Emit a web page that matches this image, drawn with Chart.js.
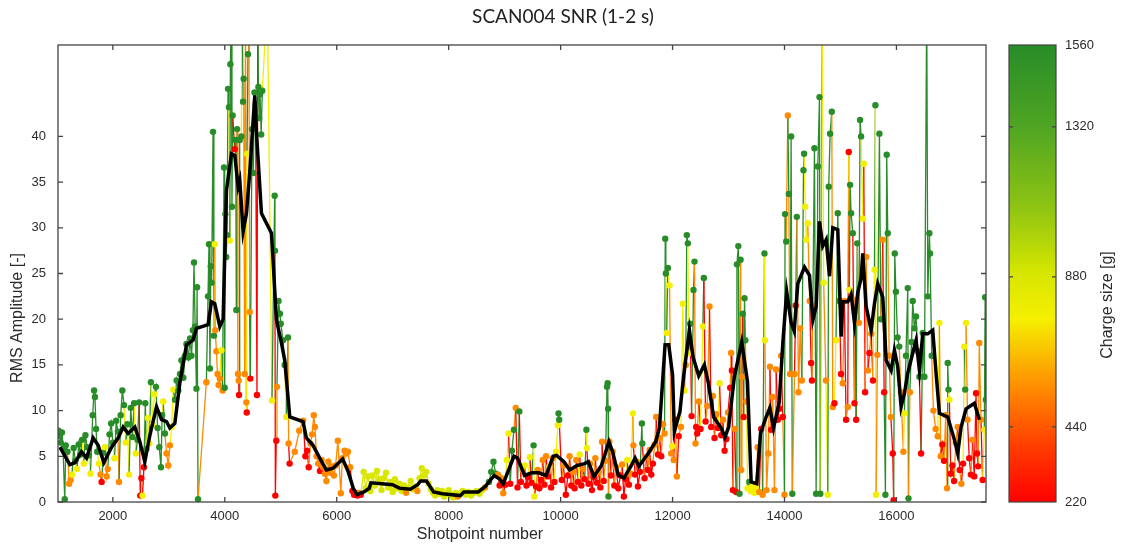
<!DOCTYPE html>
<html>
<head>
<meta charset="utf-8">
<title>SCAN004 SNR</title>
<script src="https://cdn.jsdelivr.net/npm/chart.js@4.4.0/dist/chart.umd.min.js"></script>
<style>
  html, body { margin: 0; padding: 0; background: #fff; }
  #wrap { position: relative; width: 1127px; height: 550px; }
  #wrap canvas { position: absolute; left: 0; top: 0; }
</style>
</head>
<body>
<div id="wrap">
  <canvas id="snrChart" width="1127" height="550"></canvas>
  <canvas id="cbarChart" width="1127" height="550"></canvas>
</div>
<script>
// Texts
const chartTitle = 'SCAN004 SNR (1-2 s)';
const xTitle = 'Shotpoint number';
const yTitle = 'RMS Amplitude [-]';
const cbarTitle = 'Charge size [g]';

// Axis ticks
const xTicks = [2000, 4000, 6000, 8000, 10000, 12000, 14000, 16000];
const yTicks = [0, 5, 10, 15, 20, 25, 30, 35, 40];
const chargeTicks = [220, 440, 880, 1320, 1560];

// Single shots: shotpoint, RMS amplitude, charge size [g]
const shotX = [
  1030, 1050, 1070, 1090, 1110, 1140, 1160, 1190, 1220, 1245,
  1270, 1300, 1330, 1360, 1390, 1420, 1450, 1480, 1510, 1540,
  1570, 1600, 1640, 1665, 1680, 1700, 1720, 1750, 1780, 1800,
  1830, 1860, 1890, 1910, 1940, 1970, 2000, 2030, 2060, 2090,
  2110, 2140, 2170, 2200, 2230, 2260, 2290, 2320, 2350, 2380,
  2410, 2440, 2470, 2490, 2510, 2530, 2555, 2580, 2600, 2625,
  2650, 2680, 2710, 2740, 2770, 2800, 2830, 2860, 2880, 2900,
  2930, 2960, 2990, 3020, 3050, 3080, 3110, 3140, 3170, 3200,
  3225, 3260, 3290, 3315, 3350, 3380, 3405, 3430, 3450, 3470,
  3493, 3505, 3522, 3671, 3700, 3718, 3735, 3750, 3765, 3790,
  3805, 3820, 3830, 3850, 3870, 3890, 3910, 3940, 3960, 3986,
  3998, 4010, 4025, 4040, 4058, 4075, 4090, 4100, 4117, 4128,
  4140, 4177, 4195, 4206, 4220, 4235, 4248, 4254, 4266, 4296,
  4310, 4326, 4337, 4355, 4370, 4385, 4392, 4397, 4415, 4430,
  4445, 4456, 4486, 4510, 4530, 4550, 4575, 4590, 4600, 4615,
  4630, 4650, 4670, 4760, 4843, 4891, 4896, 4903, 4920, 4932,
  4960, 4985, 5000, 5040, 5070, 5099, 5129, 5140, 5158, 5250,
  5330, 5400, 5440, 5470, 5500, 5530, 5560, 5590, 5610, 5640,
  5670, 5700, 5730, 5760, 5790, 5815, 5850, 5880, 5910, 5950,
  5980, 6020, 6073, 6100, 6140, 6170, 6200, 6240, 6280, 6310,
  6340, 6370, 6400, 6430, 6480, 6520, 6560, 6600, 6640, 6680,
  6720, 6760, 6800, 6840, 6880, 6920, 6960, 7000, 7040, 7080,
  7120, 7160, 7200, 7240, 7280, 7320, 7360, 7400, 7440, 7480,
  7520, 7560, 7600, 7640, 7680, 7720, 7760, 7800, 7840, 7880,
  7920, 7960, 8000, 8040, 8080, 8120, 8160, 8200, 8250, 8300,
  8350, 8400, 8450, 8500, 8550, 8600, 8650, 8720, 8760, 8800,
  8840, 8880, 8910, 8940, 8975, 9010, 9040, 9070, 9100, 9130,
  9166, 9198, 9230, 9262, 9290, 9320, 9358, 9390, 9420, 9450,
  9480, 9517, 9530, 9560, 9590, 9620, 9650, 9680, 9710, 9740,
  9770, 9800, 9830, 9860, 9890, 9920, 9950, 9963, 9975, 10020,
  10050, 10093, 10130, 10160, 10190, 10220, 10250, 10280, 10310, 10340,
  10370, 10400, 10430, 10461, 10470, 10500, 10530, 10560, 10590, 10620,
  10650, 10680, 10710, 10740, 10770, 10800, 10829, 10840, 10848, 10855,
  10870, 10900, 10930, 10960, 10990, 11030, 11070, 11100, 11130, 11160,
  11190, 11220, 11250, 11291, 11300, 11330, 11360, 11381, 11420, 11452,
  11460, 11500, 11530, 11559, 11589, 11620, 11648, 11680, 11708, 11740,
  11770, 11797, 11830, 11857, 11869, 11880, 11895, 11916, 11946, 11976,
  11995, 12020, 12050, 12077, 12110, 12150, 12184, 12214, 12235, 12255,
  12273, 12290, 12315, 12340, 12374, 12392, 12410, 12422, 12440, 12470,
  12500, 12541, 12559, 12590, 12620, 12660, 12690, 12720, 12750, 12780,
  12810, 12840, 12870, 12900, 12930, 12960, 12990, 13030, 13047, 13060,
  13077, 13110, 13136, 13150, 13175, 13196, 13215, 13226, 13240, 13255,
  13270, 13285, 13300, 13320, 13340, 13370, 13400, 13430, 13460, 13490,
  13520, 13550, 13583, 13610, 13642, 13650, 13680, 13710, 13740, 13761,
  13790, 13820, 13850, 13880, 13910, 13940, 13970, 14000, 14010, 14030,
  14059, 14077, 14100, 14118, 14140, 14178, 14200, 14220, 14250, 14280,
  14310, 14339, 14350, 14370, 14390, 14416, 14450, 14476, 14490, 14506,
  14535, 14565, 14595, 14625, 14640, 14672, 14700, 14740, 14773, 14790,
  14815, 14845, 14862, 14892, 14920, 14952, 14980, 15010, 15041, 15070,
  15100, 15130, 15148, 15160, 15172, 15190, 15220, 15250, 15265, 15280,
  15300, 15330, 15350, 15368, 15400, 15416, 15440, 15458, 15490, 15517,
  15550, 15580, 15607, 15624, 15636, 15660, 15696, 15720, 15755, 15780,
  15803, 15826, 15845, 15870, 15900, 15934, 15950, 15970, 15990, 16020,
  16050, 16080, 16124, 16142, 16170, 16202, 16215, 16240, 16270, 16291,
  16320, 16350, 16380, 16410, 16440, 16470, 16500, 16541, 16560, 16588,
  16600, 16630, 16660, 16700, 16737, 16767, 16790, 16820, 16850, 16880,
  16904, 16916, 16930, 16946, 16970, 17000, 17030, 17060, 17094, 17130,
  17160, 17190, 17213, 17228, 17243, 17270, 17300, 17330, 17360, 17390,
  17422, 17440, 17460, 17480, 17510, 17540, 17570, 17585, 17598
];
const rmsY = [
  7.8, 7.2, 6.5, 7.6, 5.8, 0.3, 6.2, 5.5, 2.0, 2.4,
  3.0, 5.9, 4.5, 3.6, 6.3, 5.2, 6.8, 4.2, 7.3, 6.0,
  5.1, 3.1, 9.5, 12.2, 11.5, 8.0, 5.5, 4.2, 3.0, 2.2,
  5.4, 6.0, 2.8, 3.6, 7.4, 8.6, 6.5, 4.8, 8.9, 7.7,
  2.2, 9.5, 12.2, 10.6, 6.5, 8.5, 3.0, 10.3, 7.1, 10.8,
  5.3, 6.8, 10.9, 0.7, 2.6, 0.7, 3.8, 10.8, 5.8, 9.2,
  6.4, 13.1, 8.5, 11.8, 12.6, 8.1, 6.0, 3.8, 9.5, 11.0,
  7.5, 5.3, 4.0, 6.2, 8.2, 12.3, 11.2, 13.3, 12.2, 14.0,
  15.5, 13.6, 16.0, 17.3, 15.8, 17.9, 16.0, 18.8, 26.2, 19.2,
  12.4, 23.5, 0.3, 13.1, 22.5, 28.2, 14.6, 25.8, 24.0, 40.5,
  18.2, 28.2, 18.8, 16.5, 14.0, 12.8, 13.5, 16.6, 12.2, 36.6,
  12.5, 31.5, 26.8, 29.2, 45.2, 43.2, 28.6, 47.9, 55, 32.3,
  42.3, 38.6, 39.6, 21.0, 40.8, 14.0, 13.3, 11.7, 39.6, 40.0,
  55, 43.8, 46.3, 14.0, 55, 10.9, 9.8, 38.1, 49.0, 55,
  20.8, 13.5, 40.8, 36.0, 44.8, 43.5, 11.7, 55, 45.4, 42.0,
  44.6, 40.2, 45.0, 55, 11.1, 33.5, 27.5, 0.7, 6.7, 12.6,
  22.0, 20.6, 19.5, 17.7, 15.0, 9.3, 18.0, 6.4, 4.2, 5.5,
  7.8, 8.9, 5.0, 5.6, 3.8, 6.4, 7.4, 9.5, 8.2, 5.0,
  4.2, 3.4, 4.6, 3.8, 3.1, 2.3, 4.4, 3.2, 3.9, 2.9,
  4.0, 6.7, 0.95, 4.8, 5.6, 5.3, 5.5, 3.8, 1.2, 0.8,
  1.0, 0.7, 1.0, 0.8, 3.3, 1.5, 2.8, 1.2, 2.9, 1.8,
  3.4, 2.5, 1.3, 2.6, 3.2, 1.6, 2.2, 1.1, 2.5, 1.5,
  2.0, 1.2, 1.8, 1.0, 1.6, 2.3, 1.4, 1.7, 1.2, 2.6,
  3.7, 2.9, 3.3, 2.0, 1.4, 1.0, 0.7, 1.3, 0.9, 1.2,
  0.6, 0.9, 1.3, 0.8, 0.5, 1.0, 0.6, 0.9, 1.2, 0.8,
  1.1, 0.7, 1.0, 1.2, 0.9, 1.3, 1.6, 2.2, 3.3, 4.4,
  3.1, 3.0, 1.8, 2.6, 0.95, 1.9, 4.6, 7.5, 2.0, 5.6,
  7.9, 10.3, 1.6, 9.9, 2.2, 3.5, 4.0, 1.8, 2.7, 4.9,
  2.1, 6.2, 0.6, 1.7, 3.5, 1.5, 2.4, 4.6, 1.9, 5.0,
  2.8, 3.9, 1.6, 4.8, 2.2, 5.5, 8.4, 9.7, 9.0, 2.4,
  4.0, 0.8, 2.9, 5.0, 1.8, 3.3, 1.5, 4.6, 2.2, 5.2,
  1.8, 3.6, 2.5, 7.9, 5.9, 2.0, 4.2, 1.3, 2.7, 4.8,
  2.1, 3.3, 1.6, 6.6, 2.3, 4.5, 12.6, 13.0, 10.2, 0.6,
  6.6, 2.9, 5.5, 1.8, 3.8, 1.5, 2.9, 4.1, 0.6, 2.5,
  4.6, 1.9, 3.1, 9.7, 6.2, 3.0, 4.4, 1.7, 3.3, 8.6,
  6.4, 2.6, 4.9, 3.5, 5.7, 3.0, 4.2, 6.3, 9.3, 5.2,
  7.0, 5.0, 8.5, 7.5, 28.8, 25.0, 18.5, 25.6, 23.7, 5.3,
  6.1, 4.6, 9.0, 2.8, 7.2, 8.2, 21.7, 12.2, 15.0, 29.2,
  28.3, 16.3, 19.5, 9.4, 23.2, 26.3, 6.4, 8.2, 7.5, 11.0,
  8.0, 19.2, 24.5, 8.8, 10.5, 21.4, 8.2, 11.6, 7.0, 9.6,
  8.1, 13.0, 7.3, 9.0, 5.6, 6.9, 9.8, 12.5, 16.3, 14.4,
  1.3, 8.0, 1.1, 26.0, 28.0, 0.9, 26.5, 3.5, 13.7, 20.6,
  9.3, 22.3, 17.7, 11.0, 1.5, 2.2, 1.2, 1.8, 1.0, 1.5,
  6.0, 1.1, 8.0, 0.8, 27.2, 17.7, 1.3, 5.3, 14.8, 7.9,
  11.5, 1.3, 14.5, 9.0, 10.2, 16.0, 9.3, 0.8, 31.5, 28.5,
  42.3, 33.7, 14.0, 40.0, 0.9, 14.0, 21.5, 31.2, 12.0, 19.0,
  13.3, 36.3, 38.1, 32.3, 28.7, 30.5, 22.0, 15.2, 13.3, 21.4,
  38.7, 0.9, 36.7, 44.3, 0.9, 55, 24.0, 13.3, 0.8, 34.5,
  40.3, 42.7, 10.4, 10.8, 17.7, 31.6, 22.0, 14.0, 13.0, 22.0,
  9.0, 10.4, 38.3, 23.2, 34.7, 31.6, 29.4, 10.8, 22.1, 9.0,
  28.3, 19.6, 41.8, 40.0, 31.0, 37.0, 12.0, 26.8, 14.4, 16.3,
  18.4, 13.3, 25.4, 43.4, 0.8, 16.1, 40.3, 20.0, 28.7, 12.0,
  0.8, 38.0, 29.4, 16.0, 9.3, 5.3, 0.2, 27.2, 23.0, 18.0,
  17.0, 12.0, 5.5, 9.7, 16.0, 23.4, 0.4, 12.0, 17.5, 22.0,
  19.0, 20.3, 16.5, 13.7, 5.3, 18.5, 13.7, 55, 22.5, 29.4,
  27.2, 16.0, 10.0, 8.0, 7.2, 19.6, 5.0, 6.3, 4.5, 9.5,
  1.5, 15.2, 12.3, 11.2, 3.1, 4.0, 2.3, 6.5, 8.2, 3.5,
  2.0, 4.2, 17.0, 12.3, 19.6, 9.0, 4.8, 3.0, 6.8, 2.8,
  11.9, 5.3, 3.9, 17.4, 9.0, 2.4, 7.9, 22.4, 11.2
];
const chargeG = [
  1560, 1560, 1560, 1560, 1560, 1560, 1560, 1560, 550, 550,
  770, 1560, 1560, 770, 1560, 1560, 1560, 770, 1560, 1560,
  1560, 770, 1560, 1560, 1560, 1560, 1560, 770, 550, 220,
  1560, 770, 550, 550, 1560, 1560, 1560, 770, 1560, 1560,
  550, 1560, 1560, 1560, 770, 1560, 770, 1560, 1560, 1560,
  770, 1560, 1560, 220, 220, 770, 220, 1560, 1560, 770,
  770, 1560, 770, 770, 1560, 1560, 1560, 1560, 1560, 770,
  1560, 550, 550, 550, 770, 770, 1560, 1560, 1560, 1560,
  1560, 1560, 1560, 1560, 1560, 1560, 1560, 1560, 1560, 1560,
  1560, 1560, 1560, 550, 1560, 1560, 1560, 1560, 1560, 1560,
  1560, 770, 550, 550, 550, 550, 550, 770, 550, 1560,
  1560, 1560, 1560, 1560, 1560, 1560, 770, 1560, 1560, 1560,
  1560, 220, 1560, 1560, 1560, 550, 550, 220, 1560, 1560,
  770, 1560, 1560, 550, 550, 550, 220, 770, 1560, 1560,
  550, 220, 1560, 1560, 1560, 1560, 220, 220, 1560, 1560,
  1560, 1560, 1560, 770, 770, 1560, 1560, 220, 220, 550,
  1560, 1560, 1560, 1560, 1560, 770, 1560, 550, 220, 550,
  550, 550, 220, 220, 220, 550, 550, 550, 550, 550,
  550, 220, 550, 550, 550, 550, 550, 550, 550, 550,
  550, 550, 550, 550, 550, 550, 550, 550, 220, 220,
  220, 220, 550, 220, 880, 880, 880, 880, 880, 880,
  880, 880, 880, 880, 880, 880, 880, 880, 880, 880,
  880, 880, 880, 550, 880, 880, 880, 880, 550, 880,
  880, 880, 880, 880, 880, 880, 880, 880, 880, 880,
  880, 880, 880, 880, 880, 880, 550, 880, 880, 880,
  880, 880, 880, 880, 880, 880, 550, 1560, 1560, 1560,
  1560, 550, 220, 550, 550, 220, 770, 770, 220, 1560,
  1560, 550, 220, 1560, 220, 550, 770, 220, 220, 770,
  220, 1560, 770, 220, 550, 220, 220, 550, 220, 550,
  220, 770, 220, 550, 220, 770, 770, 1560, 1560, 220,
  550, 220, 220, 550, 220, 550, 220, 550, 220, 770,
  220, 550, 220, 1560, 770, 220, 550, 220, 220, 550,
  220, 550, 220, 550, 220, 550, 1560, 1560, 1560, 1560,
  550, 220, 550, 220, 550, 220, 220, 550, 220, 220,
  770, 220, 550, 770, 550, 220, 550, 220, 220, 1560,
  1560, 220, 550, 220, 550, 220, 220, 550, 550, 220,
  550, 220, 550, 550, 1560, 1560, 770, 1560, 770, 550,
  770, 550, 220, 550, 220, 550, 770, 770, 550, 1560,
  1560, 770, 1560, 220, 1560, 1560, 550, 220, 220, 550,
  220, 770, 1560, 220, 550, 550, 220, 550, 220, 550,
  220, 770, 220, 550, 220, 220, 550, 220, 550, 220,
  220, 550, 220, 1560, 1560, 1560, 1560, 550, 550, 1560,
  220, 1560, 1560, 550, 770, 1560, 770, 770, 770, 770,
  550, 550, 220, 550, 1560, 770, 550, 550, 550, 220,
  550, 550, 550, 220, 220, 550, 220, 550, 1560, 1560,
  550, 1560, 550, 1560, 1560, 550, 220, 1560, 550, 550,
  550, 1560, 1560, 770, 770, 770, 550, 220, 220, 550,
  1560, 1560, 1560, 1560, 1560, 1100, 770, 550, 770, 1560,
  1560, 1560, 550, 220, 770, 1560, 1560, 220, 550, 550,
  220, 550, 220, 770, 1560, 1560, 1560, 220, 550, 220,
  1560, 550, 1560, 1560, 770, 770, 220, 550, 550, 220,
  550, 220, 770, 1560, 770, 550, 1560, 1560, 550, 220,
  1560, 1560, 1560, 550, 550, 220, 220, 1560, 1560, 1560,
  1560, 550, 550, 770, 1560, 1560, 1560, 550, 1560, 1560,
  1560, 1560, 1560, 1560, 220, 1560, 1560, 1560, 1560, 1560,
  1560, 1560, 550, 550, 550, 770, 550, 220, 220, 550,
  550, 1560, 1560, 770, 220, 220, 220, 550, 550, 220,
  550, 220, 770, 1560, 770, 550, 220, 220, 550, 220,
  220, 220, 220, 550, 550, 220, 770, 1560, 1560
];

// Running average (black line)
const avgX = [
  1054, 1232, 1321, 1441, 1530, 1648, 1738, 1839, 1976, 2095,
  2184, 2273, 2393, 2482, 2571, 2661, 2780, 2870, 2959, 3018,
  3107, 3196, 3316, 3432, 3494, 3702, 3762, 3821, 3911, 3970,
  4030, 4119, 4179, 4238, 4268, 4327, 4387, 4446, 4536, 4566,
  4655, 4834, 4923, 5012, 5071, 5161, 5398, 5458, 5577, 5696,
  5815, 5935, 6105, 6200, 6296, 6360, 6485, 6582, 6610, 6804,
  6998, 7125, 7316, 7445, 7500, 7603, 7730, 7890, 8209, 8270,
  8528, 8655, 8813, 8910, 8975, 9166, 9230, 9357, 9484, 9612,
  9739, 9867, 9927, 10059, 10161, 10295, 10429, 10495, 10595, 10729,
  10863, 10929, 11030, 11131, 11264, 11330, 11398, 11564, 11698, 11766,
  11866, 11932, 12000, 12032, 12132, 12200, 12300, 12368, 12468, 12568,
  12634, 12734, 12868, 12936, 13002, 13104, 13236, 13338, 13404, 13504,
  13571, 13671, 13738, 13805, 13905, 13971, 14039, 14119, 14173, 14238,
  14357, 14446, 14506, 14566, 14625, 14684, 14744, 14804, 14863, 14952,
  15012, 15042, 15131, 15190, 15250, 15309, 15369, 15398, 15458, 15548,
  15607, 15666, 15756, 15816, 15905, 15964, 16023, 16083, 16143, 16202,
  16291, 16351, 16411, 16470, 16559, 16648, 16708, 16768, 16916, 17036,
  17095, 17155, 17244, 17393, 17482
];
const avgY = [
  6.0, 4.1, 4.3, 5.5, 4.8, 7.0, 6.2, 4.3, 6.0, 7.0,
  8.2, 7.5, 8.2, 6.6, 4.4, 7.3, 10.4, 9.0, 8.8, 8.1,
  8.6, 13.0, 17.2, 17.7, 19.0, 19.4, 21.9, 21.7, 19.2, 20.0,
  34.1, 38.1, 37.9, 34.5, 35.2, 29.6, 31.6, 36.1, 44.5, 40.4,
  31.6, 29.4, 19.9, 17.4, 15.5, 9.3, 8.8, 7.0, 6.2, 4.8,
  3.5, 3.7, 4.7, 3.4, 1.5, 0.8, 1.1, 1.5, 2.1, 2.0,
  1.9, 1.5, 1.4, 1.9, 2.3, 2.3, 1.1, 0.9, 0.7, 1.1,
  1.1, 1.7, 2.9, 2.5, 2.0, 5.0, 4.8, 2.9, 3.2, 3.2,
  2.9, 5.0, 5.1, 4.4, 3.5, 4.0, 4.2, 4.4, 2.8, 4.0,
  6.6, 5.5, 2.95, 2.6, 4.0, 4.8, 3.9, 5.3, 6.6, 8.1,
  17.2, 17.2, 13.9, 7.7, 9.9, 13.9, 18.8, 15.8, 13.8, 15.0,
  13.2, 9.3, 8.1, 7.1, 8.2, 13.7, 17.5, 13.2, 2.2, 2.0,
  7.5, 9.3, 10.3, 8.1, 10.9, 17.5, 23.0, 19.6, 18.7, 23.9,
  25.7, 24.8, 19.9, 21.4, 30.7, 28.0, 28.7, 24.7, 30.0, 29.8,
  18.1, 21.9, 21.9, 22.7, 19.6, 22.9, 24.5, 27.2, 21.4, 18.8,
  21.7, 23.9, 22.4, 15.5, 14.4, 16.6, 14.8, 10.4, 11.9, 14.1,
  16.3, 17.7, 14.4, 18.4, 18.4, 18.8, 14.1, 9.7, 9.3, 6.8,
  5.3, 8.2, 10.2, 10.8, 9.0
];

// Colour map of the charge size bar (red -> yellow -> green)
const CHARGE_MIN = 220;
const CHARGE_MAX = 1560;
const cmapStops = [
  [0.00, [255, 0, 0]],
  [0.12, [255, 60, 0]],
  [0.25, [255, 140, 0]],
  [0.40, [245, 240, 0]],
  [0.50, [215, 230, 0]],
  [0.65, [140, 195, 20]],
  [0.82, [80, 165, 35]],
  [1.00, [40, 140, 40]]
];

function chargeColor(g) {
  const t = Math.min(1, Math.max(0, (g - CHARGE_MIN) / (CHARGE_MAX - CHARGE_MIN)));
  for (let i = 1; i < cmapStops.length; i++) {
    const [t1, c1] = cmapStops[i];
    if (t <= t1) {
      const [t0, c0] = cmapStops[i - 1];
      const f = (t - t0) / (t1 - t0);
      const c = c0.map((v, k) => Math.round(v + (c1[k] - v) * f));
      return `rgb(${c.join(',')})`;
    }
  }
  return 'rgb(40,140,40)';
}

const tickFont = { family: '"Liberation Sans", Arial, sans-serif', size: 13 };
const tickColor = '#2b2b2b';
const plainLabel = v => String(v);

// Box round the plot with inward ticks, plus the titles
const framePlugin = {
  id: 'frame',
  afterDatasetsDraw(chart) {
    const { ctx, chartArea: a, scales: { x, y } } = chart;
    ctx.save();
    ctx.strokeStyle = '#444';
    ctx.lineWidth = 1.3;
    ctx.strokeRect(a.left, a.top, a.right - a.left, a.bottom - a.top);
    ctx.beginPath();
    xTicks.forEach(v => {
      const px = x.getPixelForValue(v);
      ctx.moveTo(px, a.bottom); ctx.lineTo(px, a.bottom - 5);
      ctx.moveTo(px, a.top); ctx.lineTo(px, a.top + 5);
    });
    yTicks.forEach(v => {
      const py = y.getPixelForValue(v);
      ctx.moveTo(a.left, py); ctx.lineTo(a.left + 5, py);
      ctx.moveTo(a.right, py); ctx.lineTo(a.right - 5, py);
    });
    ctx.stroke();
    ctx.restore();
  },
  afterDraw(chart) {
    const ctx = chart.ctx;
    ctx.save();
    ctx.textAlign = 'center';
    ctx.textBaseline = 'middle';
    ctx.fillStyle = '#222';
    ctx.font = '19px Lato, "Open Sans", sans-serif';
    ctx.fillText(chartTitle, 563, 17);
    ctx.fillStyle = '#2b2b2b';
    ctx.font = '16px "Liberation Sans", Arial, sans-serif';
    ctx.fillText(xTitle, 480, 535);
    ctx.translate(18, 318);
    ctx.rotate(-Math.PI / 2);
    ctx.fillText(yTitle, 0, 0);
    ctx.restore();
  }
};

new Chart(document.getElementById('snrChart'), {
  type: 'scatter',
  data: {
    datasets: [
      {
        label: 'Average',
        data: avgX.map((x, i) => ({ x: x, y: avgY[i] })),
        showLine: true,
        borderColor: '#000',
        borderWidth: 3.5,
        pointRadius: 0,
        order: 0
      },
      {
        label: 'Shots',
        data: shotX.map((x, i) => ({ x: x, y: rmsY[i] })),
        showLine: true,
        borderWidth: 1.3,
        segment: {
          borderColor: c => chargeColor(chargeG[c.p1DataIndex])
        },
        pointRadius: 3.2,
        pointBorderWidth: 0,
        pointBackgroundColor: chargeG.map(chargeColor),
        order: 1
      }
    ]
  },
  options: {
    responsive: false,
    animation: false,
    layout: { padding: { top: 45, right: 141, left: 0, bottom: 0 } },
    plugins: {
      legend: { display: false },
      tooltip: { enabled: false }
    },
    scales: {
      x: {
        type: 'linear',
        min: 1020,
        max: 17600,
        afterBuildTicks: s => { s.ticks = xTicks.map(v => ({ value: v })); },
        afterFit: s => { s.height = 48; },
        grid: { display: false, drawTicks: false },
        border: { display: false },
        ticks: { font: tickFont, color: tickColor, padding: 7, maxRotation: 0, callback: plainLabel }
      },
      y: {
        min: 0,
        max: 50,
        afterBuildTicks: s => { s.ticks = yTicks.map(v => ({ value: v })); },
        afterFit: s => { s.width = 58; },
        grid: { display: false, drawTicks: false },
        border: { display: false },
        ticks: { font: tickFont, color: tickColor, padding: 12, callback: plainLabel }
      }
    }
  },
  plugins: [framePlugin]
});

// Colour bar with its own axis
const cbarPlugin = {
  id: 'cbarFrame',
  afterDatasetsDraw(chart) {
    const { ctx, chartArea: a, scales: { y } } = chart;
    ctx.save();
    ctx.strokeStyle = '#444';
    ctx.lineWidth = 1.2;
    ctx.strokeRect(a.left, a.top, a.right - a.left, a.bottom - a.top);
    ctx.beginPath();
    chargeTicks.slice(1, -1).forEach(v => {
      const py = y.getPixelForValue(v);
      ctx.moveTo(a.left, py); ctx.lineTo(a.left + 4, py);
      ctx.moveTo(a.right, py); ctx.lineTo(a.right - 4, py);
    });
    ctx.stroke();
    ctx.textAlign = 'center';
    ctx.textBaseline = 'middle';
    ctx.fillStyle = '#2b2b2b';
    ctx.font = '16px "Liberation Sans", Arial, sans-serif';
    ctx.translate(1108, 305);
    ctx.rotate(-Math.PI / 2);
    ctx.fillText(cbarTitle, 0, 0);
    ctx.restore();
  }
};

new Chart(document.getElementById('cbarChart'), {
  type: 'bar',
  data: {
    labels: ['charge'],
    datasets: [{
      data: [[CHARGE_MIN, CHARGE_MAX]],
      barPercentage: 1,
      categoryPercentage: 1,
      borderWidth: 0,
      backgroundColor: c => {
        const a = c.chart.chartArea;
        if (!a) return '#ccc';
        const g = c.chart.ctx.createLinearGradient(0, a.bottom, 0, a.top);
        cmapStops.forEach(([t, rgb]) => g.addColorStop(t, `rgb(${rgb.join(',')})`));
        return g;
      }
    }]
  },
  options: {
    responsive: false,
    animation: false,
    layout: { padding: { left: 1009, top: 45, bottom: 48, right: 0 } },
    plugins: {
      legend: { display: false },
      tooltip: { enabled: false }
    },
    scales: {
      x: { display: false },
      y: {
        position: 'right',
        min: CHARGE_MIN,
        max: CHARGE_MAX,
        afterBuildTicks: s => { s.ticks = chargeTicks.map(v => ({ value: v })); },
        afterFit: s => { s.width = 71; },
        grid: { display: false, drawTicks: false },
        border: { display: false },
        ticks: { font: tickFont, color: tickColor, padding: 9, callback: plainLabel }
      }
    }
  },
  plugins: [cbarPlugin]
});
</script>
</body>
</html>
